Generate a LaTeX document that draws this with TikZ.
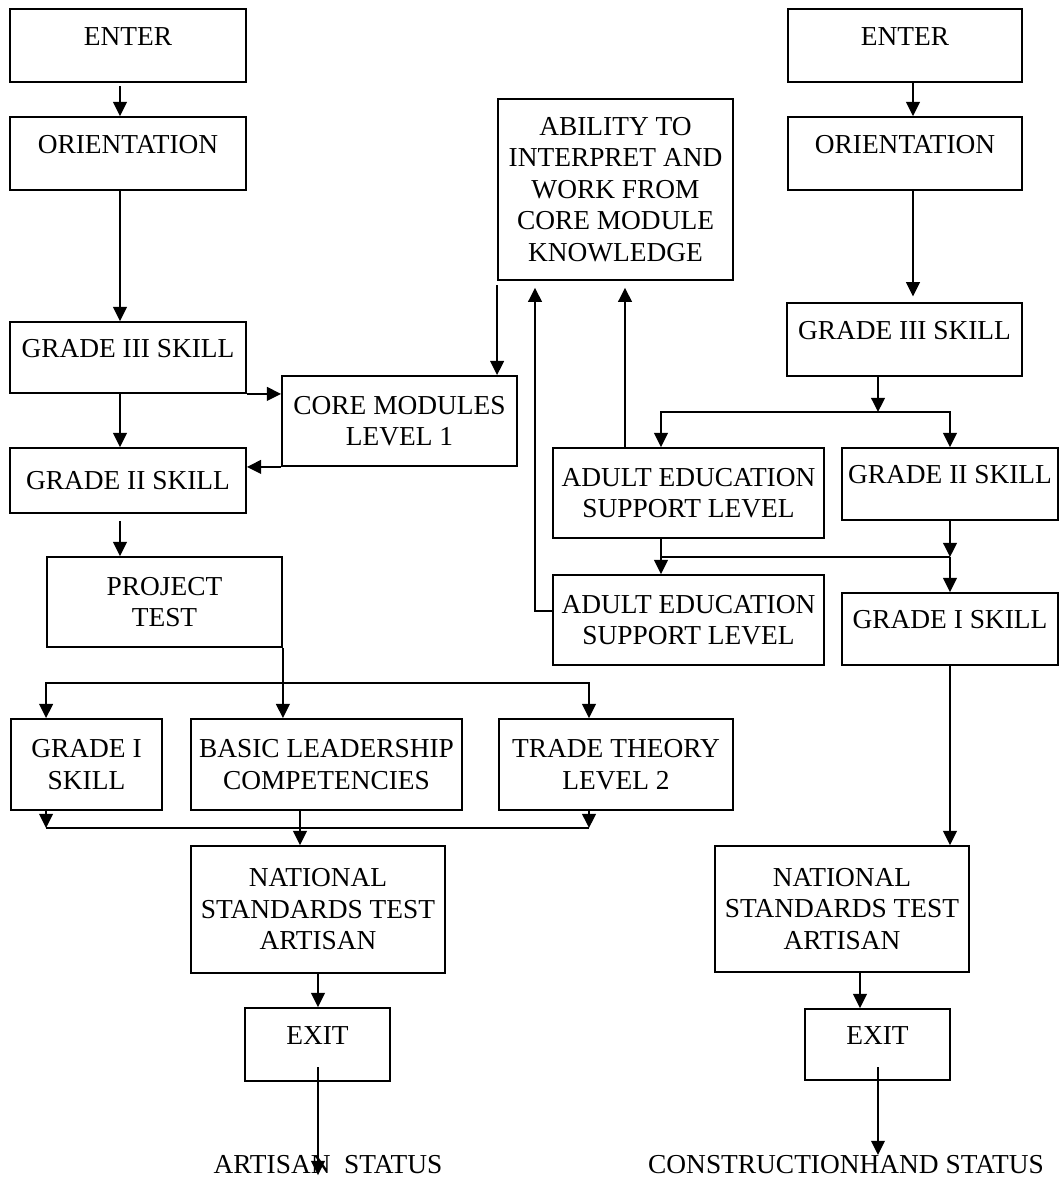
\documentclass[tikz,border=0pt]{standalone}
\usepackage{fontspec}
\setmainfont{Liberation Serif}
\usetikzlibrary{arrows.meta}

\begin{document}
\begin{tikzpicture}[x=0.4383pt, y=-0.4383pt, line width=0.8pt,
  every node/.style={font=\fontsize{12}{13.8}\selectfont},
  stage/.style 2 args={draw, rectangle, align=center, inner sep=0pt,
    minimum width=#1*0.4383pt, minimum height=#2*0.4383pt},
  raised/.style={text height=8pt, text depth=8.2pt},
  status/.style={inner sep=0pt},
  flow/.style={-{Triangle[length=6.2pt,width=6pt]}}]

  \useasboundingbox (0,0) rectangle (1061,1178);

  % left route
  \node[stage={236}{73}, raised] (enterL) at (128,45.5) {ENTER};
  \node[stage={236}{73}, raised] (orientL) at (128,153.5) {ORIENTATION};
  \node[stage={236}{71}, raised] (g3L) at (128,357.5) {GRADE III SKILL};
  \node[stage={235}{90}] (core) at (399.5,421) {CORE MODULES\\LEVEL 1};
  \node[stage={236}{65}] (g2L) at (128,480.5) {GRADE II SKILL};
  \node[stage={235}{90}] (project) at (164.5,602) {PROJECT\\TEST};
  \node[stage={151}{91}] (g1L) at (86.5,764.5) {GRADE I\\SKILL};
  \node[stage={271}{91}] (basic) at (326.5,764.5) {BASIC LEADERSHIP\\COMPETENCIES};
  \node[stage={234}{91}] (trade) at (616,764.5) {TRADE THEORY\\LEVEL 2};
  \node[stage={254}{127}] (natL) at (318,909.5) {NATIONAL\\STANDARDS TEST\\ARTISAN};
  \node[stage={145}{73}, raised] (exitL) at (317.5,1044.5) {EXIT};
  \node[status] (artisan) at (328,1165) {ARTISAN\ \ STATUS};

  % right route
  \node[stage={235}{181}] (ability) at (615.5,189.5) {ABILITY TO\\INTERPRET AND\\WORK FROM\\CORE MODULE\\KNOWLEDGE};
  \node[stage={234}{73}, raised] (enterR) at (905,45.5) {ENTER};
  \node[stage={234}{73}, raised] (orientR) at (905,153.5) {ORIENTATION};
  \node[stage={235}{73}, raised] (g3R) at (904.5,339.5) {GRADE III SKILL};
  \node[stage={271}{90}] (adult1) at (688.5,493) {ADULT EDUCATION\\SUPPORT LEVEL};
  \node[stage={216}{72}, raised] (g2R) at (950,484) {GRADE II SKILL};
  \node[stage={271}{90}] (adult2) at (688.5,620) {ADULT EDUCATION\\SUPPORT LEVEL};
  \node[stage={216}{72}, raised] (g1R) at (950,629) {GRADE I SKILL};
  \node[stage={254}{126}] (natR) at (842,909) {NATIONAL\\STANDARDS TEST\\ARTISAN};
  \node[stage={145}{71}, raised] (exitR) at (877.5,1044.5) {EXIT};
  \node[status] (construct) at (846,1165) {CONSTRUCTIONHAND STATUS};

  \coordinate (laneL) at (120,0);
  \coordinate (splitL) at (282,683);
  \coordinate (laneT) at (589,0);
  \coordinate (mergeL) at (300,828);
  \coordinate (exitLout) at (318,1067);
  \coordinate (laneR) at (913,0);
  \coordinate (splitR) at (878,412);
  \coordinate (laneA) at (661,0);
  \coordinate (laneU) at (625,0);
  \coordinate (backR) at (535,611);
  \coordinate (mergeR) at (950,557);
  \coordinate (laneX) at (860,0);
  \coordinate (exitRout) at (878,1067);

  \draw[flow, shorten <=1.5pt] (enterL.south -| laneL) -- (orientL.north -| laneL);
  \draw[flow] (orientL.south -| laneL) -- (g3L.north -| laneL);
  \draw[flow] (g3L.south -| laneL) -- (g2L.north -| laneL);
  \draw[flow] (g3L.south east) -- (g3L.south east -| core.west);
  \draw[flow] (core.south west) -- (core.south west -| g2L.east);
  \draw[flow, shorten <=2pt] (ability.south west) -- (ability.south west |- core.north);
  \draw[flow, shorten <=3pt] (g2L.south -| laneL) -- (project.north -| laneL);
  \draw[flow] (project.south east) -- (basic.north -| project.east);
  \draw[flow] (splitL) -| (g1L.north -| project.west);
  \draw[flow] (splitL) -| (trade.north -| laneT);
  \draw[flow] (g1L.south -| project.west) -- (mergeL -| project.west);
  \draw[flow] (trade.south -| laneT) -- (mergeL -| laneT);
  \draw (mergeL -| project.west) -- (mergeL -| laneT);
  \draw[flow] (basic.south -| mergeL) -- (natL.north -| mergeL);
  \draw[flow] (natL.south) -- (natL.south |- exitL.north);
  \draw[flow] (exitLout) -- (exitLout |- artisan.south);

  \draw[flow] (enterR.south -| laneR) -- (orientR.north -| laneR);
  \draw[flow, shorten >=2.5pt] (orientR.south -| laneR) -- (g3R.north -| laneR);
  \draw[flow] (g3R.south -| splitR) -- (splitR);
  \draw[flow] (splitR) -| (adult1.north -| laneA);
  \draw[flow] (splitR) -| (g2R.north);
  \draw[flow] (adult1.south -| laneA) -- (adult2.north -| laneA);
  \draw[flow] (g2R.south) -- (mergeR);
  \draw (mergeR) -- (mergeR -| laneA);
  \draw[flow] (mergeR) -- (g1R.north);
  \draw[flow, shorten >=3pt] (adult1.north -| laneU) -- (ability.south -| laneU);
  \draw[flow, shorten >=3pt] (adult2.west |- backR) -- (backR) -- (backR |- ability.south);
  \draw[flow] (g1R.south) -- (natR.north -| g1R.south);
  \draw[flow] (natR.south -| laneX) -- (exitR.north -| laneX);
  \draw[flow] (exitRout) -- (exitRout |- construct.north);
\end{tikzpicture}
\end{document}
